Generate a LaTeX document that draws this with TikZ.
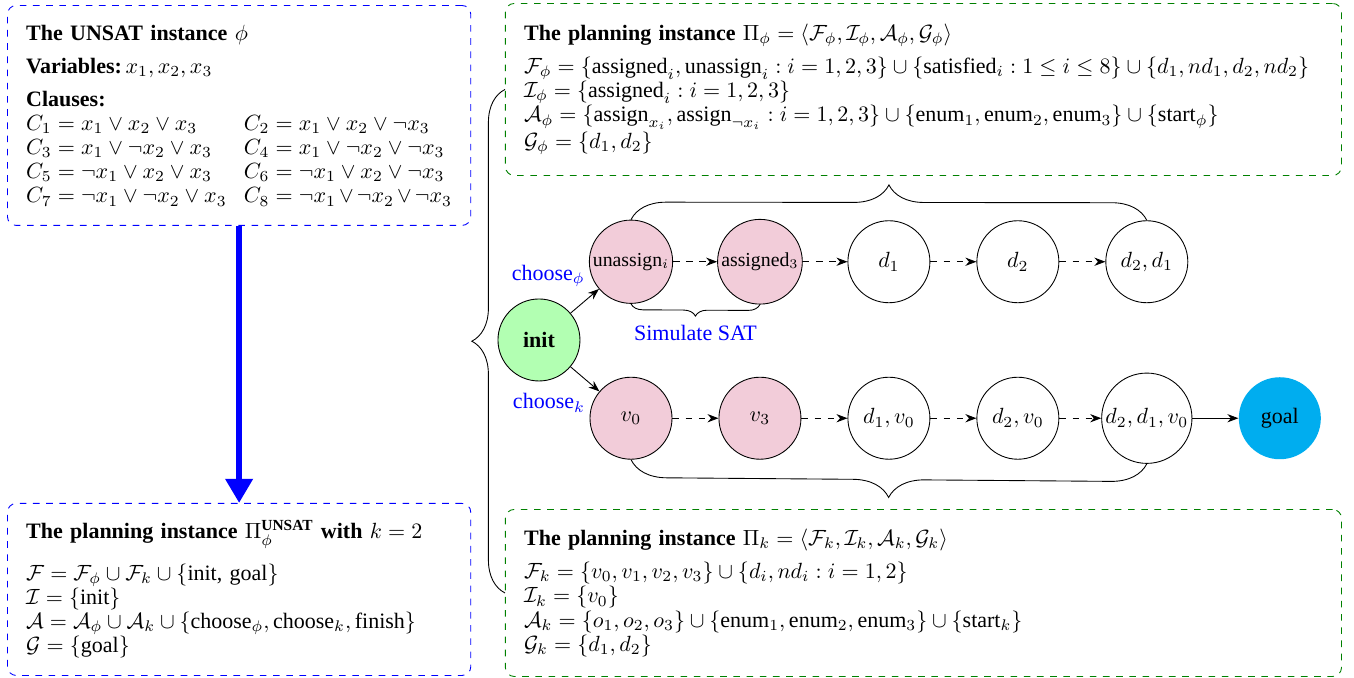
\documentclass[tikz,border=0pt]{standalone}
\usepackage{amsmath,amssymb}
\usepackage[no-math]{fontspec}
\setmainfont{Liberation Serif}
\usepackage{tikz}
\usetikzlibrary{positioning,arrows.meta,decorations.pathreplacing}
\colorlet{simpink}{purple!20}
\colorlet{initgreen}{green!30}
\colorlet{boxgreen}{green!50!black}
\newcommand{\clausepair}[2]{\makebox[99pt][l]{$#1$}$#2$}

\begin{document}
\begin{tikzpicture}[
    infobox/.style={draw, dashed, rounded corners=4pt, anchor=north west, align=left,
        inner xsep=8.5pt, font=\fontsize{10}{11}\selectfont,
        execute at begin node={\relpenalty=10000 \binoppenalty=10000}},
    satbox/.style={infobox, draw=blue, text width=193.6pt},
    planbox/.style={infobox, draw=boxgreen, text width=363pt},
    stnode/.style={circle, draw, minimum size=1.31cm, inner sep=1pt},
    simnode/.style={stnode, fill=simpink},
    arr/.style={-{Stealth[length=5pt]}},
    darr/.style={arr, dashed},
    bigarr/.style={-{Triangle[width=12pt, length=11pt]}, blue, line width=3pt},
    lbl/.style={text=blue},
    brc/.style={decorate, decoration={brace, amplitude=#1}},
    node distance=2.06cm, on grid
]
\useasboundingbox (0,0) rectangle (21.63,-10.815);

% the SAT side
\node[satbox, minimum height=3.514cm] (unsat) at (0.112,-0.080) {%
    \textbf{The UNSAT instance} $\phi$\\[4pt]
    \textbf{Variables:}$\,x_1, x_2, x_3$\\[4pt]
    \textbf{Clauses:}\\
    \clausepair{C_1 = x_1 \vee x_2 \vee x_3}{C_2 = x_1 \vee x_2 \vee \neg x_3}\\
    \clausepair{C_3 = x_1 \vee \neg x_2 \vee x_3}{C_4 = x_1 \vee \neg x_2 \vee \neg x_3}\\
    \clausepair{C_5 = \neg x_1 \vee x_2 \vee x_3}{C_6 = \neg x_1 \vee x_2 \vee \neg x_3}\\
    \clausepair{C_7 = \neg x_1 \vee \neg x_2 \vee x_3}{C_8 = \neg x_1 \vee \neg x_2 \vee \neg x_3}};
\node[satbox, minimum height=2.748cm] (pibig) at (0.112,-8.035) {%
    \textbf{The planning instance $\Pi_\phi^{\textbf{UNSAT}}$ with $k=2$}\\[6pt]
    $\mathcal{F} = \mathcal{F}_\phi \cup \mathcal{F}_k \cup \{\text{init, goal}\}$\\
    $\mathcal{I} = \{\text{init}\}$\\
    $\mathcal{A} = \mathcal{A}_\phi \cup \mathcal{A}_k \cup \{\text{choose}_\phi, \text{choose}_k, \text{finish}\}$\\
    $\mathcal{G} = \{\text{goal}\}$};
\draw[bigarr] (unsat) -- (pibig);

% the two planning instances
\node[planbox, minimum height=2.748cm] (piphi) at (8.067,-0.048) {%
    \textbf{The planning instance} $\Pi_\phi = \langle \mathcal{F}_\phi, \mathcal{I}_\phi, \mathcal{A}_\phi, \mathcal{G}_\phi \rangle$\\[4pt]
    $\mathcal{F}_\phi = \{\text{assigned}_i, \text{unassign}_i : i = 1,2,3\} \cup \{\text{satisfied}_i : 1 \leq i \leq 8\} \cup \{d_1, nd_1, d_2, nd_2\}$\\
    $\mathcal{I}_\phi = \{\text{assigned}_i : i = 1,2,3\}$\\
    $\mathcal{A}_\phi = \{\text{assign}_{x_i}, \text{assign}_{\neg x_i} : i = 1,2,3\} \cup \{\text{enum}_1, \text{enum}_2, \text{enum}_3\} \cup \{\text{start}_\phi\}$\\
    $\mathcal{G}_\phi = \{d_1, d_2\}$};
\node[planbox, minimum height=2.668cm] (pik) at (8.067,-8.131) {%
    \textbf{The planning instance} $\Pi_k = \langle \mathcal{F}_k, \mathcal{I}_k, \mathcal{A}_k, \mathcal{G}_k \rangle$\\[4pt]
    $\mathcal{F}_k = \{v_0, v_1, v_2, v_3\} \cup \{d_i, nd_i : i = 1,2\}$\\
    $\mathcal{I}_k = \{v_0\}$\\
    $\mathcal{A}_k = \{o_1, o_2, o_3\} \cup \{\text{enum}_1, \text{enum}_2, \text{enum}_3\} \cup \{\text{start}_k\}$\\
    $\mathcal{G}_k = \{d_1, d_2\}$};
\draw[brc=0.53cm] (pik.west) -- (piphi.west);

% state graph
\node[stnode, fill=initgreen, font=\bfseries] (init) at (8.61,-5.431) {init};
\node[simnode, font=\small, above right=1.25cm and 1.47cm of init] (unassign) {unassign$_i$};
\node[simnode, font=\small, right=of unassign] (assigned) {assigned$_3$};
\node[stnode, right=of assigned] (d1) {$d_1$};
\node[stnode, right=of d1] (d2) {$d_2$};
\node[stnode, right=of d2] (d2d1) {$d_2, d_1$};
\node[simnode, below right=1.25cm and 1.47cm of init] (v0) {$v_0$};
\node[simnode, right=of v0] (v3) {$v_3$};
\node[stnode, right=of v3] (d1v0) {$d_1, v_0$};
\node[stnode, right=of d1v0] (d2v0) {$d_2, v_0$};
\node[stnode, right=of d2v0] (d2d1v0) {$d_2, d_1, v_0$};
\node[stnode, draw=none, fill=cyan, right=2.125cm of d2d1v0] (goal) {goal};

\draw[arr] (init) -- node[lbl, midway, above left, xshift=3.5pt, yshift=3pt] {choose$_\phi$} (unassign);
\draw[arr] (init) -- node[lbl, midway, below left, xshift=3.5pt, yshift=-3pt] {choose$_k$} (v0);
\draw[darr] (unassign) -- (assigned);
\draw[darr] (assigned) -- (d1);
\draw[darr] (d1) -- (d2);
\draw[darr] (d2) -- (d2d1);
\draw[darr] (v0) -- (v3);
\draw[darr] (v3) -- (d1v0);
\draw[darr] (d1v0) -- (d2v0);
\draw[darr] (d2v0) -- (d2d1v0);
\draw[arr] (d2d1v0) -- (goal);

\draw[brc=0.56cm] (unassign.north) -- (d2d1.north);
\draw[brc=0.57cm] (d2d1v0.south) -- (v0.south);
\draw[brc=0.19cm] (assigned.south) -- node[lbl, below=0.22cm] {Simulate SAT} (unassign.south);
\end{tikzpicture}
\end{document}
